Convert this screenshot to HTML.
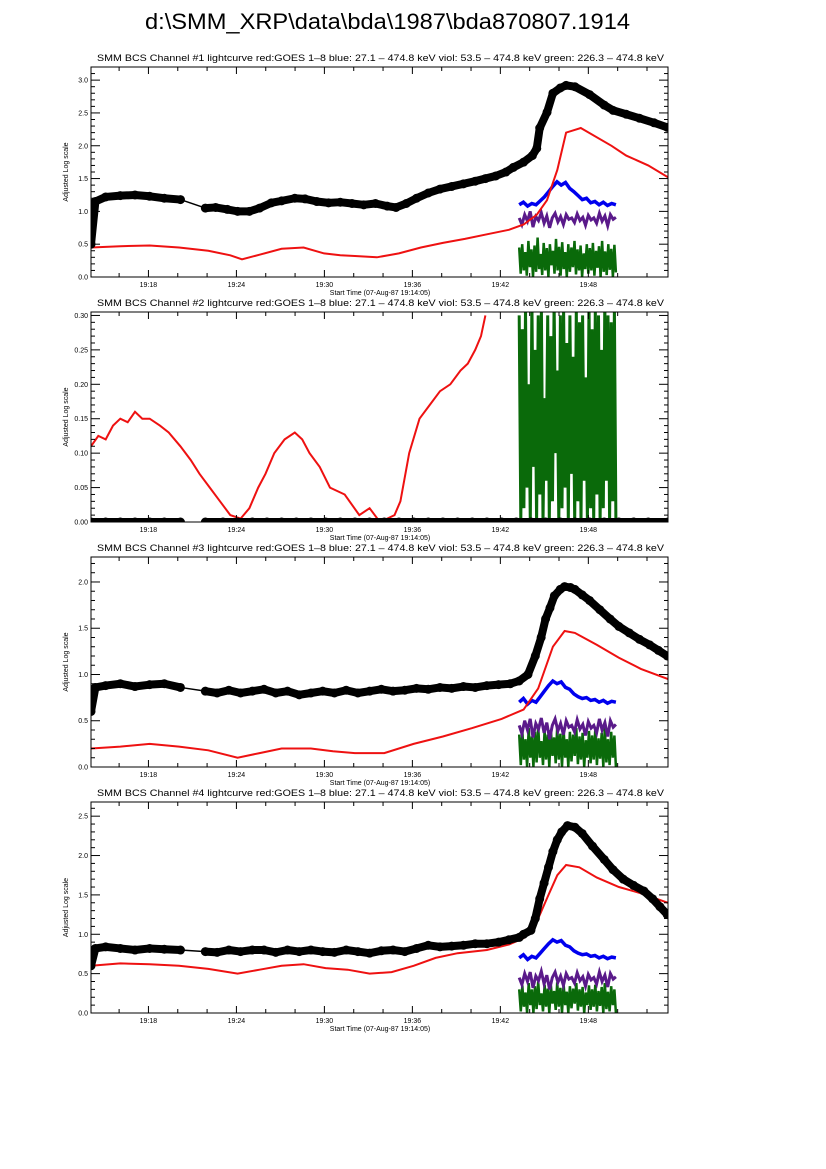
<!DOCTYPE html>
<html><head><meta charset="utf-8"><style>
body{margin:0;background:#fff}
svg{display:block;font-family:"Liberation Sans",sans-serif}
</style></head><body>
<svg id="s" width="826" height="1169" viewBox="0 0 826 1169">
<text x="145" y="29" font-size="22" textLength="485" lengthAdjust="spacingAndGlyphs">d:\SMM_XRP\data\bda\1987\bda870807.1914</text>
</svg>
<script>
// time in minutes since 19:14:05
const tStart=0, tEnd=39.35;
const tickLabels=["19:18","19:24","19:30","19:36","19:42","19:48"];
const tickTimes=[3.917,9.917,15.917,21.917,27.917,33.917];
const hxStart=29.2, hxEnd=35.8;

// Panel 1
const p1BlackT=[0,0.3,1,2,3,4,5,6.1,7.8,8.5,9.3,10,10.8,11.5,12.3,13,13.9,14.6,15.4,16.2,17,17.8,18.6,19.4,20.2,20.8,21.5,22.2,23,23.8,24.6,25.4,26.2,26.9,27.6,28.3,28.8,29.5,30.1,30.4,30.6,31.1,31.5,32,32.4,33,34,35,35.6,36.5,37.4,38.4,39.3];
const p1BlackV=[0.5,1.15,1.22,1.24,1.25,1.23,1.2,1.18,1.05,1.06,1.03,1.0,1.0,1.05,1.13,1.16,1.2,1.19,1.15,1.13,1.14,1.12,1.1,1.12,1.08,1.06,1.12,1.2,1.28,1.34,1.38,1.42,1.46,1.5,1.54,1.6,1.67,1.75,1.85,1.96,2.27,2.51,2.8,2.88,2.92,2.9,2.78,2.62,2.54,2.48,2.42,2.35,2.28];
const p1RedT=[0,2,4,6,8,9.5,10.3,11.5,13,14.5,15.9,17,18,19.5,21,22.5,24,25.5,27,28.5,29.5,30.4,31.1,31.8,32.4,33.4,35.5,36.5,38,39.35];
const p1RedV=[0.45,0.47,0.48,0.45,0.4,0.33,0.27,0.34,0.43,0.45,0.36,0.33,0.32,0.3,0.36,0.45,0.52,0.58,0.65,0.72,0.8,0.95,1.17,1.63,2.2,2.27,2.0,1.85,1.7,1.52];
const p1Blue=[1.1,1.14,1.08,1.12,1.1,1.16,1.22,1.3,1.38,1.45,1.4,1.44,1.35,1.3,1.24,1.18,1.2,1.13,1.15,1.1,1.14,1.09,1.12,1.1];
const p1Purple=[0.9,0.8,0.95,0.85,1.0,0.76,0.92,0.86,0.98,0.82,0.93,0.75,0.9,0.97,0.84,0.92,0.8,0.95,0.88,0.9,0.83,0.96,0.86,0.91,0.79,0.94,0.87,0.9,0.82,0.97,0.85,0.93,0.78,0.95,0.88,0.91];
const p1Green=[0.45,0.05,0.5,0.1,0.38,0.02,0.55,0.15,0.42,0,0.48,0.08,0.6,0.12,0.35,0.03,0.52,0.1,0.44,0,0.5,0.18,0.4,0.05,0.58,0.1,0.46,0.02,0.53,0.12,0.38,0,0.5,0.08,0.45,0.15,0.55,0.04,0.42,0.1,0.48,0,0.36,0.12,0.5,0.05,0.44,0.1,0.52,0.02,0.4,0.14,0.47,0,0.55,0.08,0.39,0.03,0.5,0.11,0.43,0,0.49,0.07];

// Panel 2
const p2BlackT=[0,1,2,3,4,5,6.1,7.8,9,10,11,12,13,14,15,16,17,18,19,20,21,22,23,24,25,26,27,28,29,30,31,32,33,34,35,36,37,38,39.35];
const p2BlackV=[0,0,0,0,0,0,0,0,0,0,0,0,0,0,0,0,0,0,0,0,0,0,0,0,0,0,0,0,0,0,0,0,0,0,0,0,0,0,0];
const p2RedT=[0,0.5,1,1.5,2,2.5,3,3.5,4,4.7,5.3,6.1,6.8,7.4,8.1,8.8,9.5,10.2,10.8,11.4,11.9,12.5,13.2,13.9,14.4,14.9,15.6,16.3,17.3,18.3,19,19.7,20.2,20.7,21.1,21.7,22.4,23.1,23.8,24.5,25.2,25.7,26.2,26.6,26.9];
const p2RedV=[0.11,0.125,0.12,0.14,0.15,0.145,0.16,0.15,0.15,0.14,0.13,0.11,0.09,0.07,0.05,0.03,0.01,0.005,0.02,0.05,0.07,0.1,0.12,0.13,0.12,0.1,0.08,0.05,0.04,0.01,0.02,0,0.005,0.01,0.03,0.1,0.15,0.17,0.19,0.2,0.22,0.23,0.25,0.27,0.3];
const p2Blue=[1.1,1.1,1.12,1.08,1.2,1.38,1.45,1.42,1.32,1.22,1.15,1.14,1.12,1.1,1.1];
const p2Purple=[0.9,0.8,0.95,0.85,1.0,0.76,0.92,0.86,0.98,0.82,0.93,0.75,0.9,0.97,0.84,0.92,0.8,0.95,0.88,0.9,0.83,0.96,0.86,0.91,0.79,0.94,0.87,0.9];
const p2Green=[0.3,0,0.28,0.02,0.31,0.05,0.2,0,0.32,0.08,0.25,0,0.3,0.04,0.31,0,0.18,0.06,0.3,0,0.27,0.03,0.32,0.1,0.22,0,0.3,0.02,0.31,0.05,0.26,0,0.3,0.07,0.24,0,0.31,0.03,0.29,0,0.3,0.06,0.21,0,0.32,0.02,0.28,0,0.31,0.04,0.3,0,0.25,0.02,0.32,0.06,0.3,0,0.29,0.03,0.31,0];

// Panel 3
const p3BlackT=[0,0.3,1,2,3,4,5,6.1,7.8,8.6,9.4,10.2,11,11.8,12.6,13.4,14.2,15,15.8,16.6,17.4,18.2,19,19.8,20.6,21.4,22.2,23,23.8,24.6,25.4,26.2,27,27.8,28.6,29.2,29.8,30.3,30.7,31,31.3,31.6,32,32.3,32.7,33,33.5,34,34.7,35.4,36,36.7,37.4,38.1,38.7,39.3];
const p3BlackV=[0.6,0.86,0.88,0.9,0.87,0.89,0.9,0.86,0.82,0.8,0.83,0.8,0.82,0.84,0.8,0.82,0.78,0.8,0.82,0.8,0.83,0.8,0.82,0.84,0.82,0.83,0.85,0.84,0.86,0.85,0.87,0.86,0.88,0.89,0.9,0.93,1.0,1.2,1.4,1.6,1.72,1.85,1.92,1.95,1.94,1.92,1.86,1.8,1.7,1.6,1.52,1.45,1.38,1.32,1.26,1.2];
const p3RedT=[0,2,4,6,8,10,11.5,13,15,16.5,18,20,22,24,26,28,29.5,30.5,31.5,32.3,33,34.5,36,37.5,39.35];
const p3RedV=[0.2,0.22,0.25,0.22,0.18,0.1,0.15,0.2,0.2,0.17,0.15,0.15,0.25,0.33,0.42,0.52,0.62,0.85,1.3,1.47,1.45,1.32,1.18,1.06,0.95];
const p3Blue=[0.7,0.74,0.68,0.72,0.7,0.76,0.82,0.88,0.93,0.9,0.92,0.86,0.84,0.79,0.76,0.74,0.75,0.72,0.73,0.7,0.72,0.69,0.71,0.7];
const p3Purple=[0.45,0.36,0.5,0.4,0.52,0.32,0.47,0.41,0.53,0.37,0.48,0.3,0.45,0.52,0.39,0.47,0.35,0.5,0.43,0.45,0.38,0.51,0.41,0.46,0.34,0.49,0.42,0.45,0.37,0.52,0.4,0.48,0.33,0.5,0.43,0.46];
const p3Green=[0.35,0.02,0.4,0.08,0.3,0,0.42,0.1,0.33,0,0.38,0.05,0.45,0.1,0.28,0.02,0.4,0.08,0.35,0,0.4,0.12,0.32,0.04,0.44,0.08,0.36,0,0.41,0.1,0.3,0,0.38,0.06,0.35,0.12,0.42,0.03,0.33,0.08,0.37,0,0.29,0.1,0.39,0.04,0.34,0.08,0.41,0.02,0.31,0.09,0.37,0,0.43,0.05,0.3,0.02,0.38,0.1,0.34,0];

// Panel 4
const p4BlackT=[0,0.3,1,2,3,4,5,6.1,7.8,8.6,9.4,10.2,11,11.8,12.6,13.4,14.2,15,15.8,16.6,17.4,18.2,19,19.8,20.6,21.4,22.2,23,23.8,24.6,25.4,26.2,27,27.8,28.5,29.2,29.5,30,30.3,30.6,30.9,31.2,31.5,31.8,32.1,32.5,33,33.5,34.2,35,35.6,36.3,37,37.7,38.3,38.8,39.3];
const p4BlackV=[0.6,0.82,0.84,0.82,0.8,0.82,0.81,0.8,0.78,0.77,0.8,0.78,0.8,0.8,0.77,0.8,0.78,0.8,0.78,0.77,0.8,0.78,0.76,0.79,0.8,0.78,0.82,0.86,0.84,0.85,0.86,0.88,0.88,0.9,0.93,0.96,1.0,1.05,1.2,1.45,1.65,1.85,2.05,2.2,2.3,2.38,2.36,2.28,2.12,1.95,1.82,1.7,1.62,1.55,1.45,1.35,1.25];
const p4RedT=[0,2,4,6,8,10,11.5,13,14.5,16,17.5,19,20.5,22,23.5,25,27,28.5,29.5,30.5,31.2,31.8,32.4,33.3,34.5,36,37.5,39.35];
const p4RedV=[0.6,0.63,0.62,0.6,0.56,0.5,0.55,0.6,0.62,0.57,0.55,0.5,0.52,0.6,0.7,0.76,0.8,0.87,0.95,1.2,1.5,1.75,1.88,1.85,1.72,1.6,1.52,1.4];
const p4Blue=[0.7,0.74,0.68,0.72,0.7,0.76,0.82,0.88,0.93,0.9,0.92,0.86,0.84,0.79,0.76,0.74,0.75,0.72,0.73,0.7,0.72,0.69,0.71,0.7];
const p4Purple=[0.45,0.36,0.5,0.4,0.52,0.32,0.47,0.41,0.53,0.37,0.48,0.3,0.45,0.52,0.39,0.47,0.35,0.5,0.43,0.45,0.38,0.51,0.41,0.46,0.34,0.49,0.42,0.45,0.37,0.52,0.4,0.48,0.33,0.5,0.43,0.46];
const p4Green=[0.3,0.02,0.35,0.08,0.26,0,0.38,0.1,0.3,0,0.34,0.05,0.4,0.1,0.25,0.02,0.36,0.08,0.31,0,0.35,0.12,0.28,0.04,0.39,0.08,0.32,0,0.37,0.1,0.27,0,0.34,0.06,0.31,0.12,0.38,0.03,0.3,0.08,0.33,0,0.26,0.1,0.35,0.04,0.3,0.08,0.36,0.02,0.28,0.09,0.33,0,0.38,0.05,0.27,0.02,0.34,0.1,0.3,0];

const panels=[
 {n:1,top:67,bot:277,ymax:3.2,step:0.5,minor:0.1,dec:1,bt:p1BlackT,bv:p1BlackV,rt:p1RedT,rv:p1RedV,blue:p1Blue,pur:p1Purple,grn:p1Green},
 {n:2,top:312,bot:522,ymax:0.305,step:0.05,minor:0.01,dec:2,bt:p2BlackT,bv:p2BlackV,rt:p2RedT,rv:p2RedV,blue:p2Blue,pur:p2Purple,grn:p2Green},
 {n:3,top:557,bot:767,ymax:2.27,step:0.5,minor:0.1,dec:1,bt:p3BlackT,bv:p3BlackV,rt:p3RedT,rv:p3RedV,blue:p3Blue,pur:p3Purple,grn:p3Green},
 {n:4,top:802,bot:1013,ymax:2.68,step:0.5,minor:0.1,dec:1,bt:p4BlackT,bv:p4BlackV,rt:p4RedT,rv:p4RedV,blue:p4Blue,pur:p4Purple,grn:p4Green}
];
const X0=91,X1=668;
const NS="http://www.w3.org/2000/svg";
const svg=document.getElementById('s');
function mk(tag,attrs,parent){const e=document.createElementNS(NS,tag);for(const k in attrs)e.setAttribute(k,attrs[k]);(parent||svg).appendChild(e);return e;}
function xs(t){return X0+(t-tStart)/(tEnd-tStart)*(X1-X0);}
panels.forEach(p=>{
 const ys=v=>p.bot-v/p.ymax*(p.bot-p.top);
 const g=mk('g',{});
 
 
 const cp=mk('clipPath',{id:'c'+p.n},g);
 mk('rect',{x:X0,y:p.top,width:X1-X0,height:p.bot-p.top},cp);
 const t=mk('text',{x:97,y:p.top-6,'font-size':9,textLength:567,lengthAdjust:'spacingAndGlyphs'},g);
 t.textContent='SMM BCS Channel #'+p.n+' lightcurve  red:GOES 1\u20138  blue: 27.1 \u2013 474.8 keV  viol: 53.5 \u2013 474.8 keV  green: 226.3 \u2013 474.8 keV';
 
 
 const pg=mk('g',{'clip-path':'url(#c'+p.n+')'},g);
 const dt=(hxEnd-hxStart);
 const ptsN=(arr)=>arr.map((v,i)=>xs(hxStart+dt*i/(arr.length-1)).toFixed(1)+','+ys(v).toFixed(1)).join(' ');
 const gr=mk('polyline',{points:ptsN(p.grn),fill:'none',stroke:'#0a6a0a','stroke-width':p.n==2?3:2.5},pg);
 
 
 const pu=mk('polyline',{points:ptsN(p.pur),fill:'none',stroke:'#5a1a8a','stroke-width':3},pg);
 
 
 const bl=mk('polyline',{points:ptsN(p.blue),fill:'none',stroke:'#0000ee','stroke-width':3.5},pg);
 
 
 const rd=mk('polyline',{points:p.rt.map((tt,i)=>xs(tt).toFixed(1)+','+ys(p.rv[i]).toFixed(1)).join(' '),fill:'none',stroke:'#ee1111','stroke-width':2},pg);
 
 
 const bg=mk('g',{},pg);
 
 
 for(let i=1;i<p.bt.length;i++){
  const gap=p.bt[i]-p.bt[i-1]>1.5;
  if(gap&&p.n==2)continue;
  mk('line',{x1:xs(p.bt[i-1]),y1:ys(p.bv[i-1]),x2:xs(p.bt[i]),y2:ys(p.bv[i]),stroke:'#000','stroke-width':gap?1.5:8,'stroke-linecap':gap?'butt':'round'},bg);
 }
 p.bt.forEach((tt,i)=>{const c=mk('circle',{cx:xs(tt),cy:ys(p.bv[i]),r:4.5,fill:'#000'},bg);
  
  });
 mk('rect',{x:X0,y:p.top,width:X1-X0,height:p.bot-p.top,fill:'none',stroke:'#000','stroke-width':1},g);
 for(let m=1.917;m<=tEnd;m+=2){ const x=xs(m);
  const major=Math.abs(((m-3.917)%6+6)%6)<0.01;
  const L=major?7:4;
  mk('line',{x1:x,y1:p.bot,x2:x,y2:p.bot-L,stroke:'#000'},g);
  mk('line',{x1:x,y1:p.top,x2:x,y2:p.top+L,stroke:'#000'},g);}
 tickTimes.forEach((tt,i)=>{const l=mk('text',{x:xs(tt),y:p.bot+10,'font-size':7,'text-anchor':'middle'},g);l.textContent=tickLabels[i];
  
  });
 const xt=mk('text',{x:380,y:p.bot+18,'font-size':7,'text-anchor':'middle'},g);
 xt.textContent='Start Time (07-Aug-87 19:14:05)';
 
 
 const nm=Math.floor(p.ymax/p.minor+1e-6);
 for(let k=0;k<=nm;k++){const v=k*p.minor,y=ys(v);
  const major=Math.abs(v/p.step-Math.round(v/p.step))<1e-6;const L=major?9:4;
  mk('line',{x1:X0,y1:y,x2:X0+L,y2:y,stroke:'#000'},g);
  mk('line',{x1:X1,y1:y,x2:X1-L,y2:y,stroke:'#000'},g);
  if(major){const l=mk('text',{x:X0-3,y:y+2.5,'font-size':7,'text-anchor':'end'},g);l.textContent=v.toFixed(p.dec);
   
   }}
 const yc=(p.top+p.bot)/2;
 const yt=mk('text',{x:0,y:0,'font-size':7,'text-anchor':'middle',transform:'translate(68,'+yc+') rotate(-90)'},g);
 yt.textContent='Adjusted Log scale';
 
 
});
</script>
</body></html>
